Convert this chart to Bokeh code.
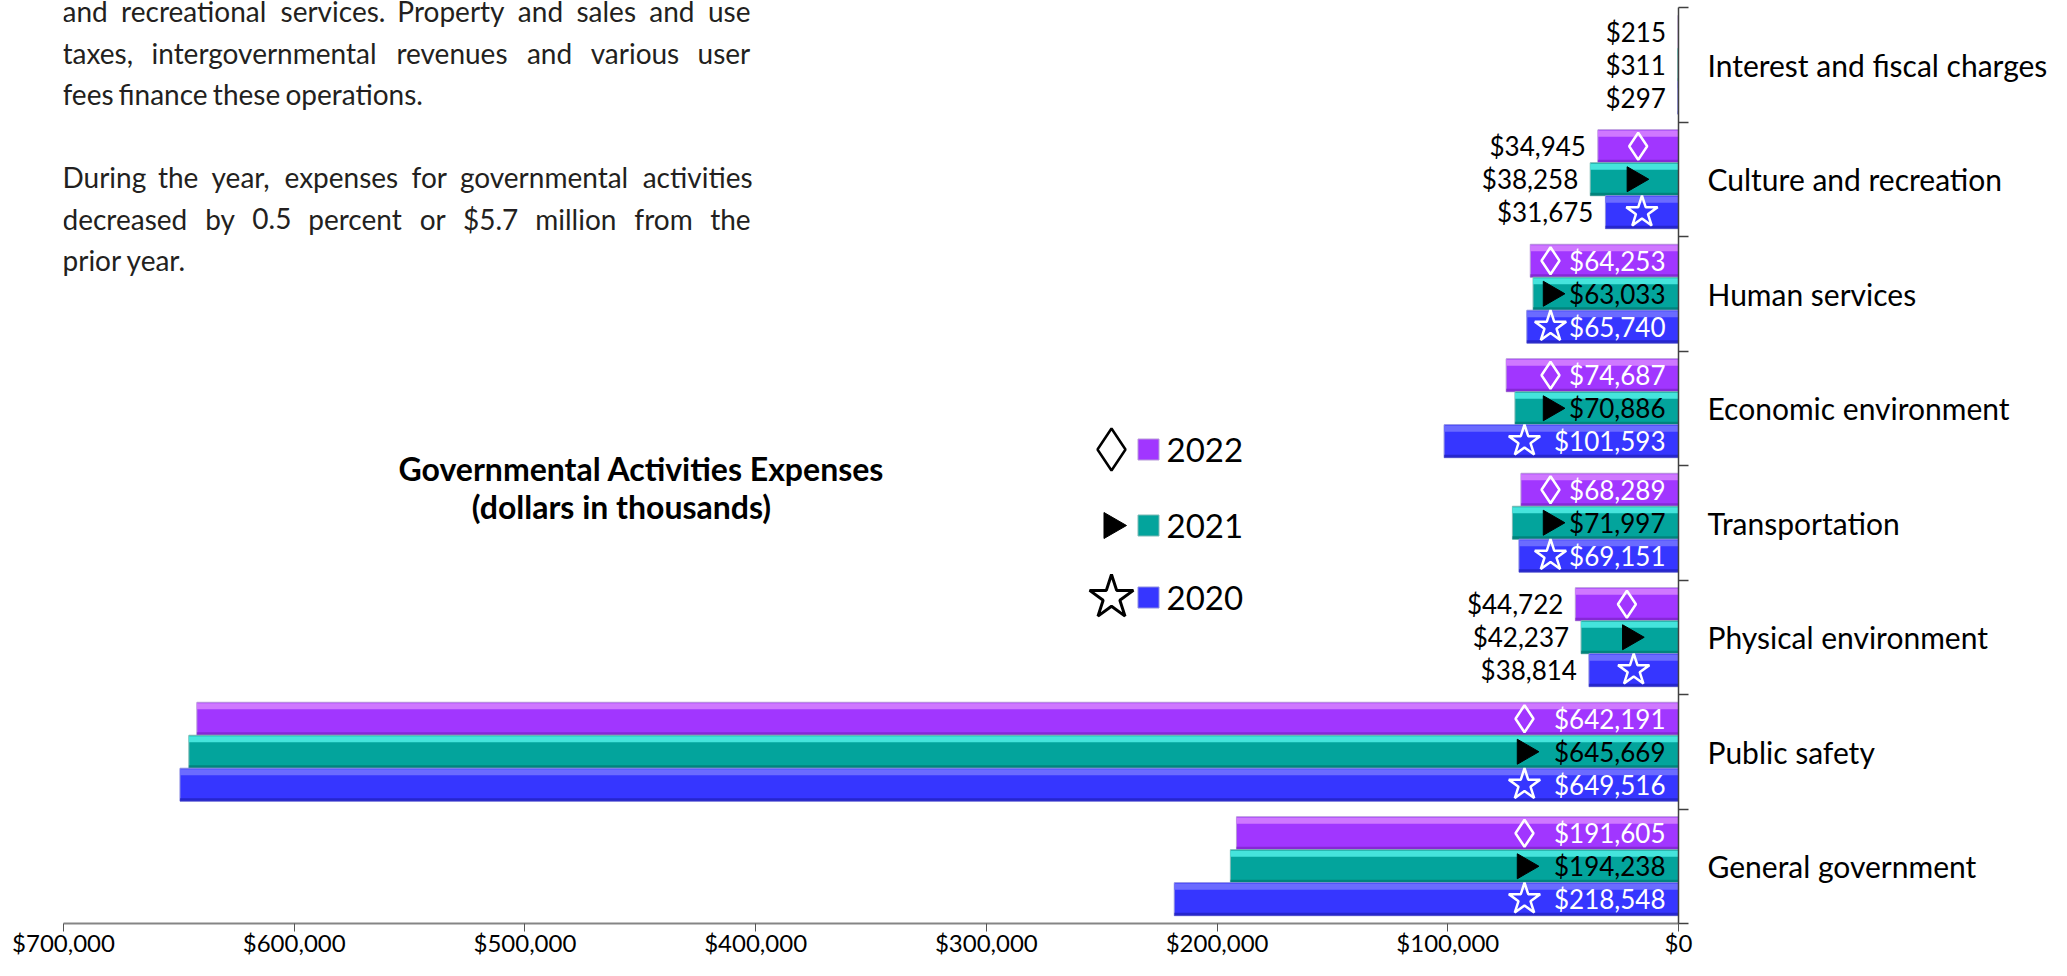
import math
from bokeh.plotting import figure
from bokeh.models import Range1d, FixedTicker, NumeralTickFormatter, ColumnDataSource
from bokeh.core.properties import value
from bokeh.embed import file_html
from bokeh.resources import INLINE

# ---------------- data ----------------
categories = ["Interest and fiscal charges", "Culture and recreation", "Human services",
              "Economic environment", "Transportation", "Physical environment",
              "Public safety", "General government"]
years = ["2022", "2021", "2020"]
exp_2022 = [215, 34945, 64253, 74687, 68289, 44722, 642191, 191605]
exp_2021 = [311, 38258, 63033, 70886, 71997, 42237, 645669, 194238]
exp_2020 = [297, 31675, 65740, 101593, 69151, 38814, 649516, 218548]
x_tick_values = [0, 100000, 200000, 300000, 400000, 500000, 600000, 700000]
chart_title = ["Governmental Activities Expenses", "(dollars in thousands)"]
paragraph_lines = ["and recreational services. Property and sales and use",
                   "taxes, intergovernmental revenues and various user",
                   "fees finance these operations.",
                   "",
                   "During the year, expenses for governmental activities",
                   "decreased by 0.5 percent or $5.7 million from the",
                   "prior year."]
paragraph_justify = [True, True, False, False, True, True, False]

# ---------------- layout ----------------
W, H = 2051, 960
ML, MR, MT, MB = 63, 373, 0, 37
FW = W - ML - MR
FH = H - MT - MB
BAND = 114.5
XMAX = 700000
NCAT = len(categories)
YMAX = FH / BAND
FONT = "Lato"


def px_x(px):
    return XMAX * (ML + FW - px) / FW


def px_y(py):
    return YMAX * (MT + FH - py) / FH


def px_dx(d):
    return XMAX * d / FW


def px_dy(d):
    return YMAX * d / FH


styles = {
    "2022": dict(main="#A136FF", light="#CF78FF", dark="#7A22C4", border="#B89AD8",
                 marker="diamond", in_text="white"),
    "2021": dict(main="#03A49C", light="#45E4DC", dark="#00766F", border="#7FB9B5",
                 marker="triangle", in_text="black"),
    "2020": dict(main="#3636FF", light="#6B6BFF", dark="#2020B8", border="#8E8EE0",
                 marker="star", in_text="white"),
}
series = {"2022": exp_2022, "2021": exp_2021, "2020": exp_2020}

BH = 0.288
offsets = {"2022": BH, "2021": 0.0, "2020": -BH}

p = figure(width=W, height=H, output_backend="svg", toolbar_location=None,
           x_range=Range1d(XMAX, 0), y_range=Range1d(0, YMAX),
           y_axis_location="right", min_border_left=ML, min_border_right=MR,
           min_border_top=MT, min_border_bottom=MB)
p.outline_line_color = None
p.xgrid.visible = False
p.ygrid.visible = False
p.background_fill_color = "white"
p.border_fill_color = "white"

centers = [NCAT - 0.5 - i for i in range(NCAT)]

for yr in years:
    st = styles[yr]
    vals = series[yr]
    ys = [c + offsets[yr] for c in centers]
    src = ColumnDataSource(dict(y=ys, v=vals, z=[0] * len(vals),
                                yt=[y + BH / 2 - px_dy(4) for y in ys],
                                yb=[y - BH / 2 + px_dy(1.5) for y in ys]))
    p.hbar(y="y", left="z", right="v", height=BH, source=src,
           fill_color=st["main"], line_color=st["border"], line_width=1)
    p.hbar(y="yt", left="z", right="v", height=px_dy(6), source=src,
           fill_color=st["light"], line_color=None)
    p.hbar(y="yb", left="z", right="v", height=px_dy(3), source=src,
           fill_color=st["dark"], line_color=None, fill_alpha=0.7)

# value labels and markers
lab = dict(x=[], y=[], text=[], color=[], xoff=[])
mk = {yr: dict(x=[], y=[]) for yr in years}
for yr in years:
    st = styles[yr]
    for c, v in zip(centers, series[yr]):
        y = c + offsets[yr]
        txt = "${:,}".format(v)
        if v >= 50000:
            lab["x"].append(0)
            lab["xoff"].append(-13)
            lab["color"].append(st["in_text"])
            mk[yr]["x"].append(px_dx(128 + 26 * (len(txt) - 7)))
            mk[yr]["y"].append(y)
        else:
            lab["x"].append(v)
            lab["xoff"].append(-12)
            lab["color"].append("black")
            if v >= 1000:
                mk[yr]["x"].append(v / 2)
                mk[yr]["y"].append(y)
        lab["y"].append(y)
        lab["text"].append(txt)

p.text(x="x", y="y", text="text", text_color="color", x_offset="xoff",
       source=ColumnDataSource(lab), text_align="right", text_baseline="middle",
       text_font=value(FONT), text_font_size="26px")

p.scatter(x=mk["2022"]["x"], y=mk["2022"]["y"], marker="diamond", size=27,
          fill_alpha=0, line_color="white", line_width=2.5)
p.scatter(x=mk["2021"]["x"], y=mk["2021"]["y"], marker="triangle", size=25,
          angle=-math.pi / 2, fill_color="black", line_color="black")
p.scatter(x=mk["2020"]["x"], y=mk["2020"]["y"], marker="star", size=33,
          fill_alpha=0, line_color="white", line_width=2.5)

# legend (drawn manually)
leg_rows = [449, 525, 597]
leg_marker = {"2022": dict(size=42, lw=2.5), "2021": dict(size=26, lw=1), "2020": dict(size=46, lw=3)}
for yr, row in zip(years, leg_rows):
    st = styles[yr]
    yy = px_y(row)
    if yr == "2021":
        p.scatter(x=[px_x(1111)], y=[yy], marker="triangle", size=26, angle=-math.pi / 2,
                  fill_color="black", line_color="black")
    else:
        p.scatter(x=[px_x(1111)], y=[yy], marker=st["marker"], size=leg_marker[yr]["size"],
                  fill_color="white", line_color="black", line_width=leg_marker[yr]["lw"])
    p.scatter(x=[px_x(1148)], y=[yy], marker="square", size=21, fill_color=st["main"],
              line_color=st["border"], line_width=1)
    p.text(x=[px_x(1166)], y=[yy], text=[yr], text_align="left", text_baseline="middle",
           text_font=value(FONT), text_font_size="33px", text_color="black")

# title
p.text(x=[px_x(641)], y=[px_y(468)], text=[chart_title[0]], text_align="center",
       text_baseline="middle", text_font=value(FONT), text_font_size="32px",
       text_font_style="bold", text_color="black")
p.text(x=[px_x(621)], y=[px_y(506)], text=[chart_title[1]], text_align="center",
       text_baseline="middle", text_font=value(FONT), text_font_size="32px",
       text_font_style="bold", text_color="black")

# paragraph (justified by word placement)
CW = {'a': .51, 'b': .56, 'c': .46, 'd': .56, 'e': .53, 'f': .32, 'g': .50, 'h': .56, 'i': .24,
      'j': .24, 'k': .50, 'l': .24, 'm': .84, 'n': .56, 'o': .56, 'p': .56, 'q': .56, 'r': .37,
      's': .43, 't': .35, 'u': .56, 'v': .50, 'w': .77, 'x': .49, 'y': .50, 'z': .45,
      'P': .60, 'D': .70, '.': .22, ',': .22, '$': .58, ' ': .19}
PFS = 28


def tw(s):
    return sum(CW.get(ch, .58) for ch in s) * PFS


PX0, PX1 = 62, 750
py = 10.5
pw = dict(x=[], y=[], text=[])
for line, just in zip(paragraph_lines, paragraph_justify):
    if line:
        words = line.split(" ")
        if just and len(words) > 1:
            total = sum(tw(w) for w in words)
            gap = (PX1 - PX0 - total) / (len(words) - 1)
        else:
            gap = tw(" ")
        cx = PX0
        for w in words:
            pw["x"].append(px_x(cx))
            pw["y"].append(px_y(py))
            pw["text"].append(w)
            cx += tw(w) + gap
    py += 41.5
p.text(x="x", y="y", text="text", source=ColumnDataSource(pw), text_align="left",
       text_baseline="middle", text_font=value(FONT), text_font_size=f"{PFS}px",
       text_color="#231F20")

# axes
xa = p.xaxis[0]
xa.ticker = FixedTicker(ticks=x_tick_values, minor_ticks=[])
xa.formatter = NumeralTickFormatter(format="$0,0")
xa.axis_line_color = "#858585"
xa.axis_line_width = 2
xa.major_tick_line_color = "#555555"
xa.major_tick_out = 8
xa.major_tick_in = 0
xa.minor_tick_line_color = None
xa.major_label_standoff = -4
xa.major_label_text_font = FONT
xa.major_label_text_font_size = "24px"
xa.major_label_text_color = "black"

ya = p.yaxis[0]
ya.ticker = FixedTicker(ticks=centers, minor_ticks=list(range(0, NCAT + 1)))
ya.major_label_overrides = {c: name for c, name in zip(centers, categories)}
ya.bounds = (0, NCAT)
ya.axis_line_color = "#404040"
ya.axis_line_width = 1.5
ya.major_tick_line_color = None
ya.major_tick_out = 0
ya.major_tick_in = 0
ya.minor_tick_line_color = "#404040"
ya.minor_tick_line_width = 1.5
ya.minor_tick_out = 10
ya.minor_tick_in = 0
ya.major_label_standoff = 19
ya.major_label_text_font = FONT
ya.major_label_text_font_size = "30px"
ya.major_label_text_color = "black"

open("out.html", "w").write(file_html(p, INLINE))
